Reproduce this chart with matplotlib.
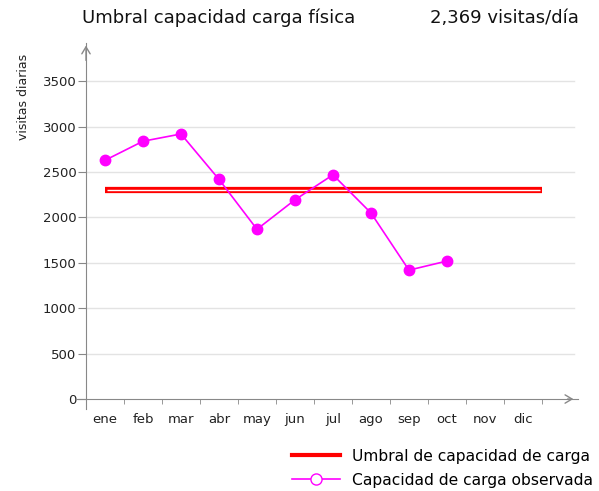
import matplotlib
matplotlib.use("Agg")
import matplotlib.pyplot as plt
from matplotlib.lines import Line2D

# datos
meses = ["ene", "feb", "mar", "abr", "may", "jun", "jul", "ago", "sep", "oct", "nov", "dic"]
observada = [2630, 2840, 2920, 2420, 1870, 2195, 2470, 2050, 1420, 1520]
umbral = 2300
umbral_x = [0, 11.5]
titulo_izq = "Umbral capacidad carga física"
titulo_der = "2,369 visitas/día"

ROJO = "#ff0000"
MAGENTA = "#ff00ff"
GRIS = "#888888"

plt.rcParams['font.family'] = ['DejaVu Sans']

fig = plt.figure(figsize=(5.99, 4.91), dpi=100)
ax = fig.add_axes([0.1277, 0.167, 0.965 - 0.1277, 0.912 - 0.167])

ax.set_xlim(-0.75, 12.45)
ax.set_ylim(-110, 3920)

# rejilla
for v in range(500, 3501, 500):
    ax.plot([-0.5, 12.35], [v, v], color="#e3e3e3", lw=1, zorder=0)

# ejes tipo cruz
for s in ["top", "right"]:
    ax.spines[s].set_visible(False)
ax.spines["left"].set_position(("data", -0.5))
ax.spines["bottom"].set_position(("data", 0))
ax.spines["left"].set_color(GRIS)
ax.spines["bottom"].set_color(GRIS)
ax.annotate("", xy=(-0.5, 3925), xytext=(-0.5, 3700), annotation_clip=False,
            arrowprops=dict(arrowstyle="->,head_length=0.5,head_width=0.3", color=GRIS, lw=1))
ax.annotate("", xy=(12.4, 0), xytext=(12.1, 0), annotation_clip=False,
            arrowprops=dict(arrowstyle="->,head_length=0.5,head_width=0.3", color=GRIS, lw=1))

ax.set_yticks(range(0, 3501, 500))
ax.tick_params(axis="y", length=6, color=GRIS, labelsize=9.5, labelcolor="#222222", pad=1)
ax.set_xticks(range(len(meses)))
ax.set_xticklabels(meses)
ax.set_xticks([k + 0.5 for k in range(12)], minor=True)
ax.tick_params(axis="x", which="major", length=0, labelsize=9.5, labelcolor="#222222", pad=10)
ax.tick_params(axis="x", which="minor", length=3.6, color=GRIS)

ax.set_ylabel("visitas diarias", fontsize=9, color="#222222")
ax.yaxis.set_label_coords(-0.092, 0.852)

# umbral: linea roja hueca (borde rojo, centro blanco)
ax.plot(umbral_x, [umbral, umbral], color=ROJO, lw=4.5, solid_capstyle="butt", zorder=3)
ax.plot([umbral_x[0] + 0.06, umbral_x[1] - 0.06], [umbral, umbral], color="white",
        lw=1.0, solid_capstyle="butt", zorder=3)

# capacidad observada
ax.plot(range(len(observada)), observada, color=MAGENTA, lw=1.2, marker="o",
        markersize=7.5, zorder=4)

fig.text(82 / 599, 0.963, titulo_izq, ha="left", va="center", fontsize=13, color="#111111")
fig.text(430 / 599, 0.963, titulo_der, ha="left", va="center", fontsize=13, color="#111111")

handles = [Line2D([], [], color=ROJO, lw=3),
           Line2D([], [], color=MAGENTA, lw=1.2, marker="o", markersize=8,
                  markerfacecolor="white")]
fig.legend(handles, ["Umbral de capacidad de carga", "Capacidad de carga observada"],
           loc="lower right", bbox_to_anchor=(0.995, 0.0), frameon=False, fontsize=11.2,
           handlelength=3.1, labelspacing=0.6, handletextpad=0.75,
           borderaxespad=0.0, borderpad=0.2)

fig.savefig("out.png", dpi=100)
